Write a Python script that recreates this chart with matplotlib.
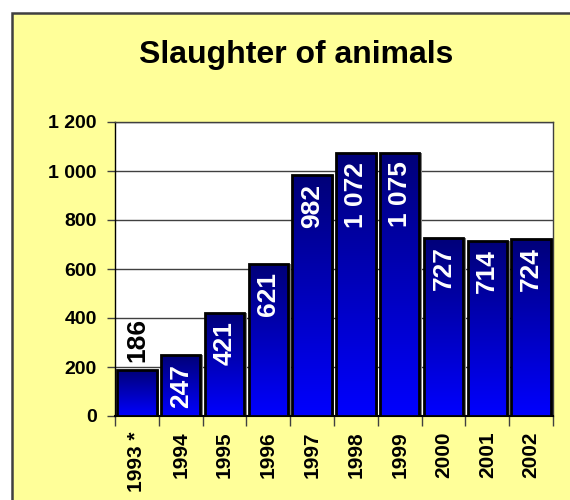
import numpy as np
import matplotlib.pyplot as plt
from matplotlib.patches import Rectangle
from matplotlib.colors import LinearSegmentedColormap

years = ['1993 *', '1994', '1995', '1996', '1997', '1998', '1999', '2000', '2001', '2002']
values = [186, 247, 421, 621, 982, 1072, 1075, 727, 714, 724]
yticks = [0, 200, 400, 600, 800, 1000, 1200]

FONT = 'Liberation Sans'

def fmt(v):
    return '{:,}'.format(v).replace(',', ' ')

fig = plt.figure(figsize=(5.7, 5.0), dpi=100)
fig.patch.set_facecolor('white')

# yellow frame (cut by the right and bottom edge like the original)
frame = Rectangle((12 / 570, -0.05), 1.1, 1 - 13 / 500 + 0.05,
                  transform=fig.transFigure, facecolor='#FFFF99',
                  edgecolor='#404040', linewidth=1.8, zorder=-5)
fig.patches.append(frame)

fig.text(296 / 570, 1 - 55 / 500, 'Slaughter of animals', ha='center', va='center',
         fontsize=23, fontweight='bold', family=FONT)

ax = fig.add_axes([115 / 570, 84 / 500, 438 / 570, 294 / 500])
ax.set_zorder(1)
ax.set_facecolor('white')

x = np.arange(len(values))
w = 0.9
cmap = LinearSegmentedColormap.from_list('grad', ['#0000FF', '#000078'])
grad = np.linspace(0, 1, 256).reshape(-1, 1)

# shadow on the right
ax.bar(x + 0.06, values, width=w, color='#808080', zorder=2)
bars = ax.bar(x, values, width=w, facecolor='none', edgecolor='black',
              linewidth=2, zorder=4)
for b in bars:
    x0 = b.get_x()
    h = b.get_height()
    im = ax.imshow(grad, cmap=cmap, origin='lower', aspect='auto',
                   extent=[x0, x0 + b.get_width(), 0, h], zorder=3)
    im.set_clip_path(b)

for xi, v in zip(x, values):
    if v < 200:
        ax.annotate(fmt(v), (xi, v), xytext=(0, 6), textcoords='offset points',
                    ha='center', va='bottom', rotation=90, color='black',
                    fontsize=19, fontweight='bold', family=FONT, zorder=5)
    else:
        ax.annotate(fmt(v), (xi, v), xytext=(0, -6), textcoords='offset points',
                    ha='center', va='top', rotation=90, color='white',
                    fontsize=19, fontweight='bold', family=FONT, zorder=5)

ax.set_xlim(-0.5, len(values) - 0.5)
ax.set_ylim(0, 1200)
ax.set_yticks(yticks)
ax.set_yticklabels([fmt(t) for t in yticks], fontsize=14, fontweight='bold', family=FONT)
ax.tick_params(axis='y', direction='out', length=6, width=1, color='#404040', pad=7)
ax.yaxis.grid(True, color='#404040', linewidth=1)
ax.set_axisbelow(True)

ax.set_xticks(x)
ax.set_xticklabels(years, rotation=90, fontsize=15, fontweight='bold', family=FONT)
ax.tick_params(axis='x', length=0, pad=11)
ax.set_xticks(np.arange(len(values) + 1) - 0.5, minor=True)
ax.tick_params(axis='x', which='minor', direction='out', length=7, width=1, color='#404040')

for s in ax.spines.values():
    s.set_color('#404040')
    s.set_linewidth(1)
ax.spines['left'].set_color('black')
ax.spines['bottom'].set_color('black')
ax.spines['bottom'].set_linewidth(1.5)

fig.savefig('out.png', dpi=100)
